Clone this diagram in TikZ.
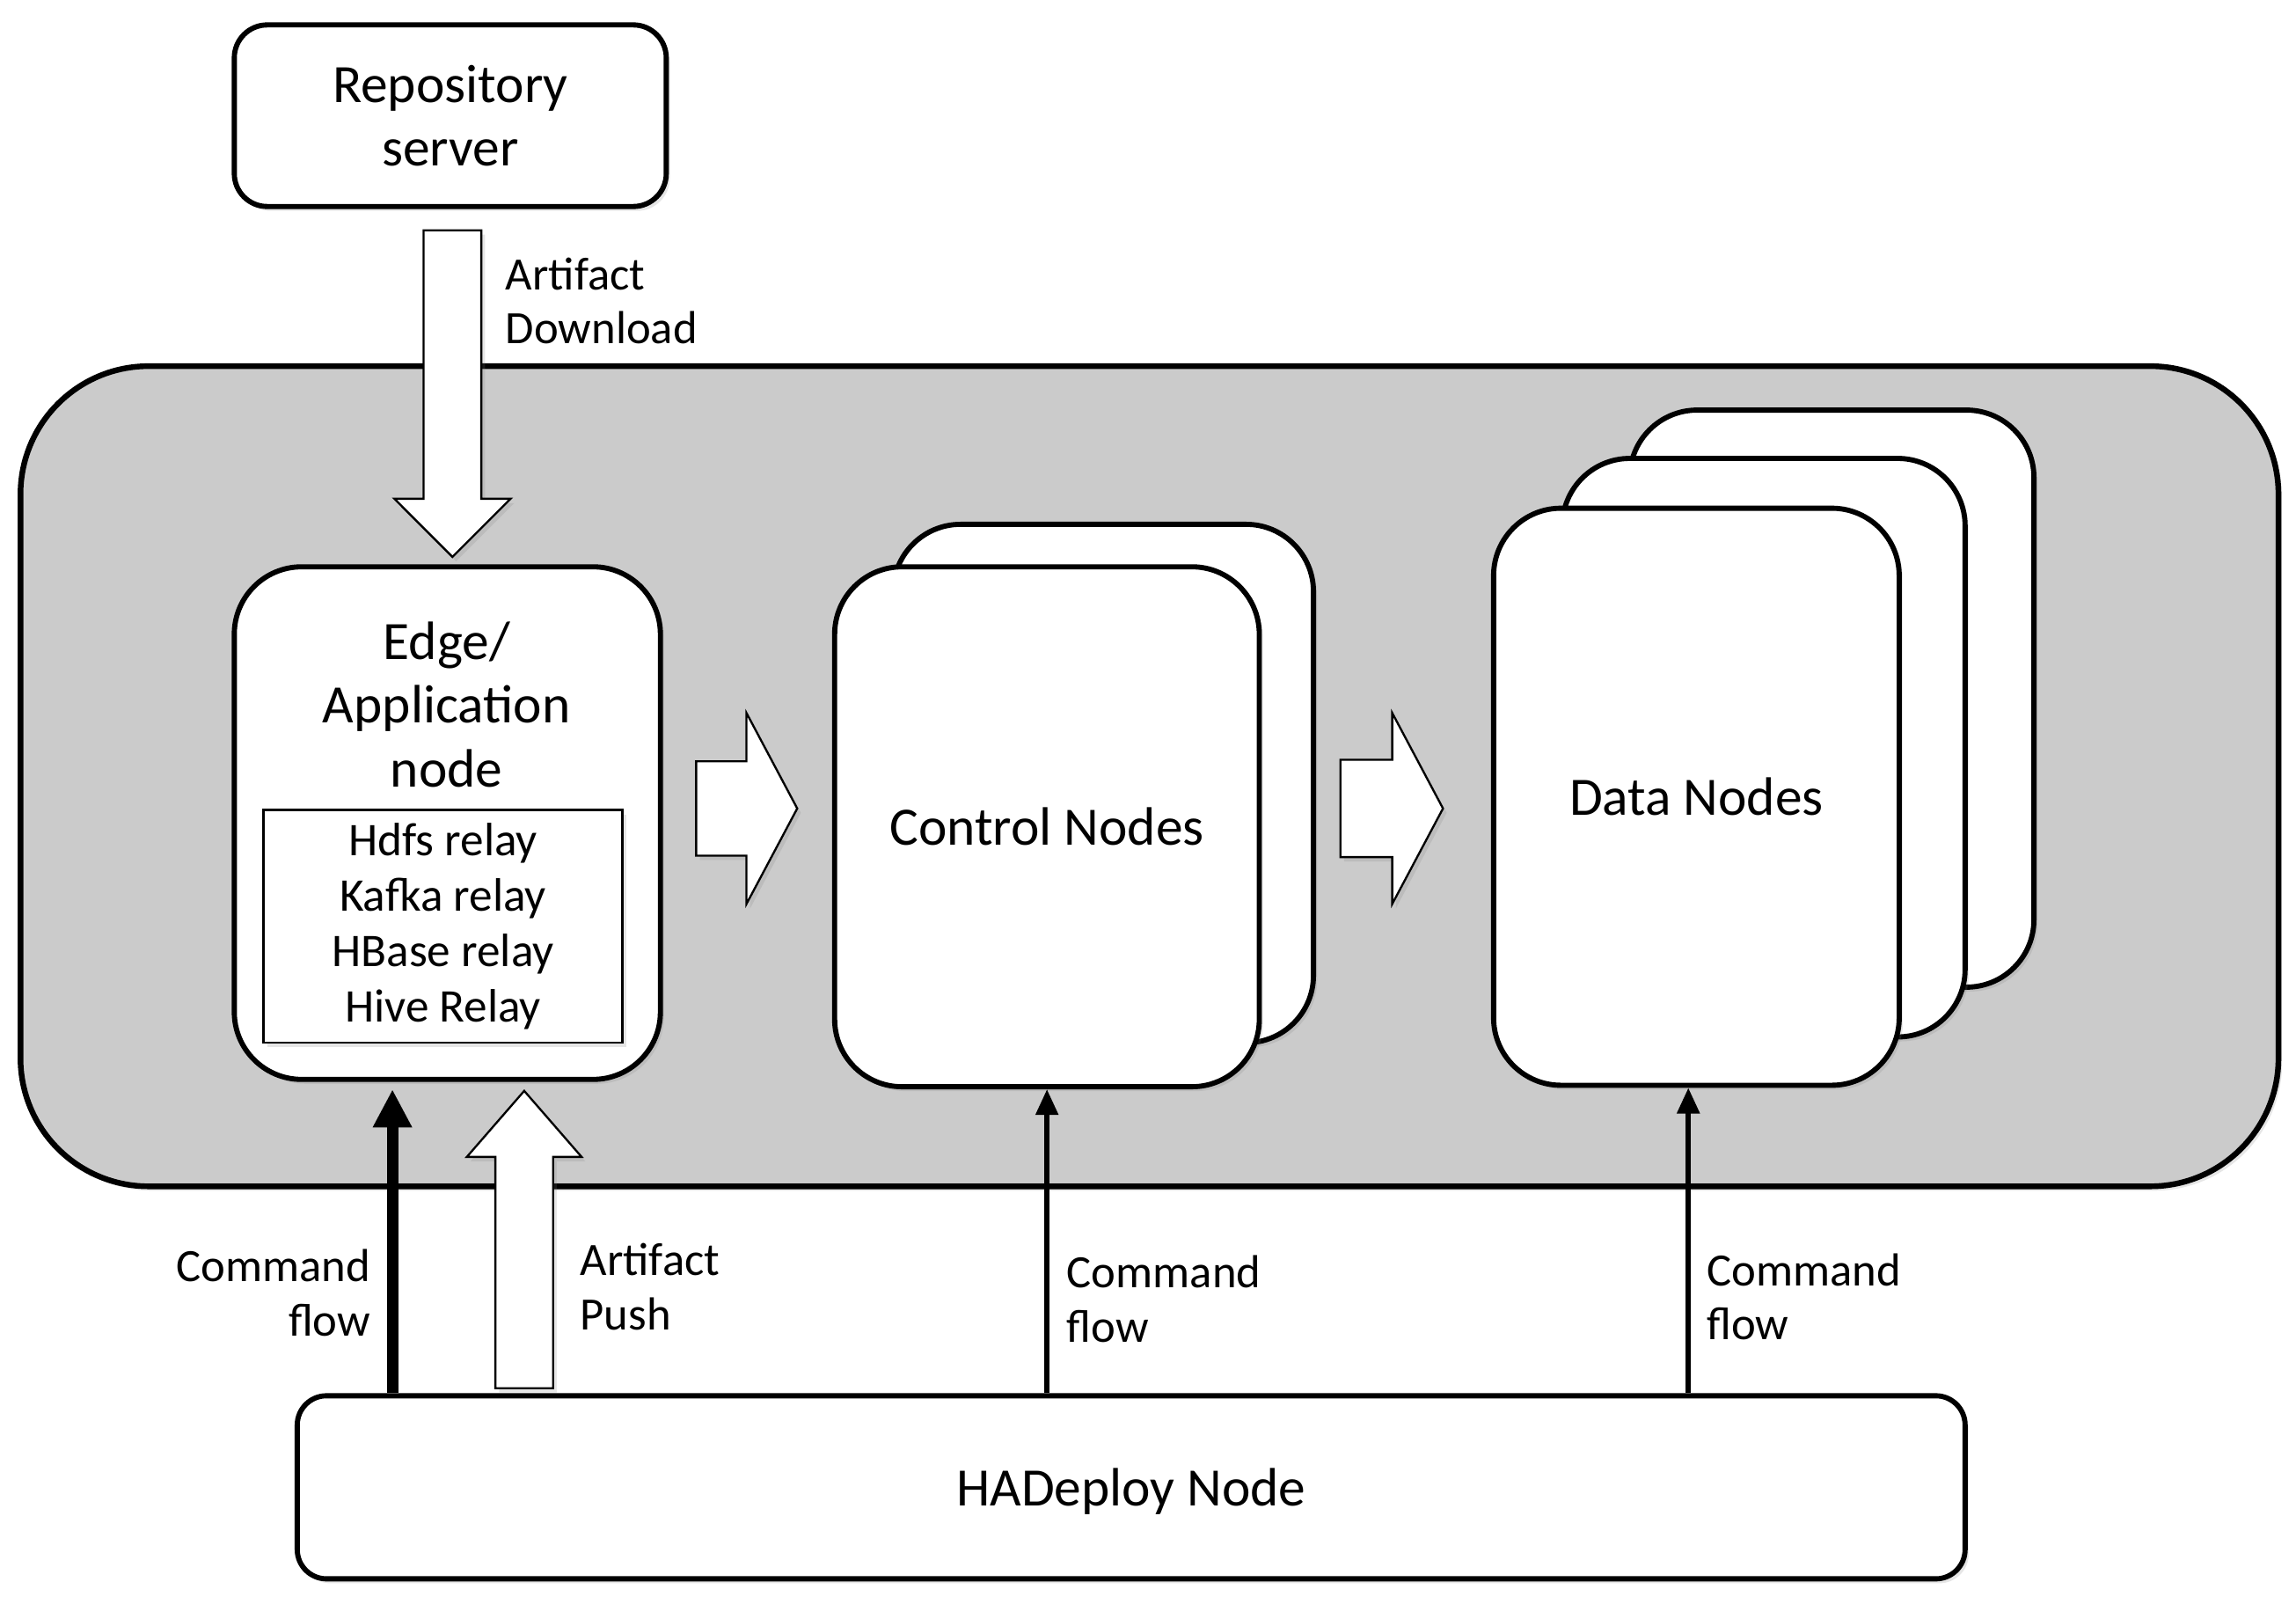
\documentclass[tikz,border=0pt]{standalone}
\usepackage{fontspec}
\setmainfont{Carlito}
\usetikzlibrary{positioning, shapes.arrows, arrows.meta, shadows}

\definecolor{clustergray}{RGB}{203,203,203}
\newcommand{\nodefont}{\fontsize{21}{24.7}\selectfont}
\newcommand{\relayfont}{\fontsize{18.2}{21.6}\selectfont}
\newcommand{\flowfont}{\fontsize{18}{21}\selectfont}

\begin{document}
\begin{tikzpicture}[
    softshadow/.style={drop shadow={shadow xshift=0.05cm, shadow yshift=-0.06cm, opacity=0.2}},
    host/.style={draw, line width=2pt, fill=white, rounded corners=0.92cm, softshadow, font=\nodefont, align=center, inner sep=0pt, text depth=0pt},
    plainbox/.style={draw, line width=2pt, fill=white, rounded corners=0.45cm, softshadow, font=\nodefont, align=center},
    bigarrow/.style={single arrow, draw, line width=0.8pt, fill=white, inner xsep=0pt, softshadow},
    cmdthin/.style={-{Triangle[length=0.35cm, width=0.3cm]}, line width=1.9pt},
    cmdthick/.style={-{Triangle[length=0.52cm, width=0.5cm]}, line width=4.5pt},
    flowlabel/.style={font=\flowfont, inner sep=0pt, align=left}
]

    \useasboundingbox (0,0) rectangle (31.36,-21.892);

    % Cluster
    \node[draw, line width=2.2pt, fill=clustergray, rounded corners=1.75cm, minimum width=30.84cm, minimum height=11.2cm, softshadow] (cluster) at (15.70,-10.60) {};

    % Top Level
    \node[plainbox, minimum width=5.9cm, minimum height=2.48cm] (repo) at (6.15,-1.58) {Repository\\server};

    % Edge node
    \node[host, minimum width=5.82cm, minimum height=7cm] (edge) at (6.11,-11.24) {};
    \node[font=\nodefont, align=center] (edgetitle) at (6.1,-9.62) {Edge/\\Application\\node};
    \node[draw, line width=0.8pt, fill=white, font=\relayfont, align=center, minimum width=4.9cm, minimum height=3.18cm, below of=edgetitle, node distance=3.03cm, xshift=-0.05cm, softshadow] (relays) {Hdfs relay\\Kafka relay\\HBase relay\\Hive Relay};

    % Control nodes
    \node[host, minimum width=5.74cm, minimum height=7.08cm] (ctrlback) at (15.07,-10.70) {};
    \node[host, minimum width=5.8cm, minimum height=7.1cm, left of=ctrlback, node distance=0.77cm, yshift=-0.59cm] (ctrl) {Control Nodes};

    % Data nodes
    \node[host, minimum width=5.52cm, minimum height=7.88cm] (databack) at (25.02,-9.54) {};
    \node[host, minimum width=5.5cm, minimum height=7.9cm, left of=databack, node distance=0.93cm, yshift=-0.67cm] (datamid) {};
    \node[host, minimum width=5.54cm, minimum height=7.88cm, left of=datamid, node distance=0.92cm, yshift=-0.67cm] (data) {Data Nodes};

    % Deploy host
    \node[plainbox, rounded corners=0.4cm, minimum width=22.78cm, minimum height=2.5cm, text depth=0pt] (hadeploy) at (15.45,-20.31) {HADeploy Node};

    % Block arrows
    \node[bigarrow, rotate=-90, inner ysep=0.38cm, minimum height=4.46cm, minimum width=1.56cm, single arrow head extend=0.4cm, single arrow tip angle=90, anchor=tip] (download) at ([xshift=0.07cm, yshift=0.08cm]edge.north) {};
    \node[bigarrow, rotate=90, inner ysep=0.38cm, minimum height=4.06cm, minimum width=1.54cm, single arrow head extend=0.39cm, single arrow tip angle=82, anchor=tip] (push) at ([xshift=1.05cm, yshift=-0.1cm]edge.south) {};
    \node[bigarrow, inner ysep=0.63cm, minimum height=1.38cm, minimum width=2.58cm, single arrow head extend=0.66cm, single arrow tip angle=124, anchor=tip] (tocontrol) at ([xshift=-0.46cm, yshift=0.25cm]ctrl.west) {};
    \node[bigarrow, inner ysep=0.65cm, minimum height=1.4cm, minimum width=2.58cm, single arrow head extend=0.64cm, single arrow tip angle=124, anchor=tip] (todata) at ([xshift=-0.64cm, yshift=-0.16cm]data.west) {};

    \node[flowlabel, anchor=west] (downloadtext) at (6.90,-4.11) {Artifact\\Download};
    \node[flowlabel, anchor=west] (pushtext) at (7.92,-17.57) {Artifact\\Push};

    % Command flows
    \coordinate (cmdedge) at ([xshift=-0.75cm, yshift=-0.1cm]edge.south);
    \coordinate (cmddata) at ([xshift=-0.11cm]data.south);
    \draw[cmdthick] (cmdedge |- hadeploy.north) -- node[flowlabel, left, align=right, pos=0.33, xshift=-0.22cm] (cmdedgetext) {Command\\flow} (cmdedge);
    \draw[cmdthin] (ctrl.south |- hadeploy.north) -- node[flowlabel, right, pos=0.31, xshift=0.24cm] (cmdctrltext) {Command\\flow} (ctrl.south);
    \draw[cmdthin] (cmddata |- hadeploy.north) -- node[flowlabel, right, pos=0.315, xshift=0.22cm] (cmddatatext) {Command\\flow} (cmddata);

\end{tikzpicture}
\end{document}
